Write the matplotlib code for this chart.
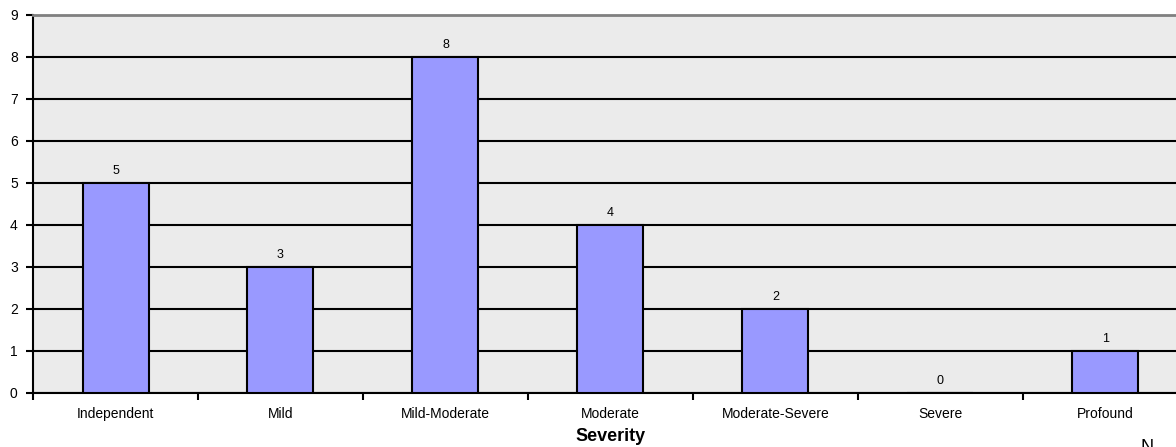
import matplotlib.pyplot as plt
import numpy as np

plt.rcParams['font.family'] = ['Liberation Sans', 'DejaVu Sans']

categories = ['Independent', 'Mild', 'Mild-Moderate', 'Moderate',
              'Moderate-Severe', 'Severe', 'Profound']
counts = [5, 3, 8, 4, 2, 0, 1]

fig = plt.figure(figsize=(11.76, 4.47), dpi=100)
ax = fig.add_axes([33 / 1176, 54 / 447, 1155 / 1176, 378 / 447])
ax.set_facecolor('#ebebeb')

x = np.arange(len(categories))
bars = ax.bar(x, counts, width=0.4, color='#9999ff', edgecolor='black',
              linewidth=1.5, zorder=3)

for xi, v in zip(x, counts):
    ax.text(xi, v + 0.15, str(v), ha='center', va='bottom', fontsize=9)

ax.set_xlim(-0.5, len(categories) - 0.5)
ax.set_ylim(0, 9)
ax.set_yticks(range(10))
ax.yaxis.grid(True, color='black', linewidth=1.5, zorder=1)
ax.set_axisbelow(True)

ax.set_xticks(x)
ax.set_xticklabels(categories, fontsize=10)
ax.tick_params(axis='x', which='major', length=0, pad=10)
ax.set_xticks(np.arange(-0.5, len(categories)), minor=True)
ax.tick_params(axis='x', which='minor', length=5, width=1.5, direction='out')
ax.tick_params(axis='y', length=5, width=1.5, labelsize=10, pad=6)

ax.spines['right'].set_visible(False)
ax.spines['top'].set_color('#808080')
ax.spines['top'].set_linewidth(2)
ax.spines['left'].set_linewidth(1.5)
ax.spines['bottom'].set_linewidth(1.5)

ax.set_xlabel('Severity', fontsize=13, fontweight='bold', labelpad=5)
fig.text(1140 / 1176, 8 / 447, 'N', fontsize=13, ha='left', va='top')

fig.savefig('out.png', dpi=100)
